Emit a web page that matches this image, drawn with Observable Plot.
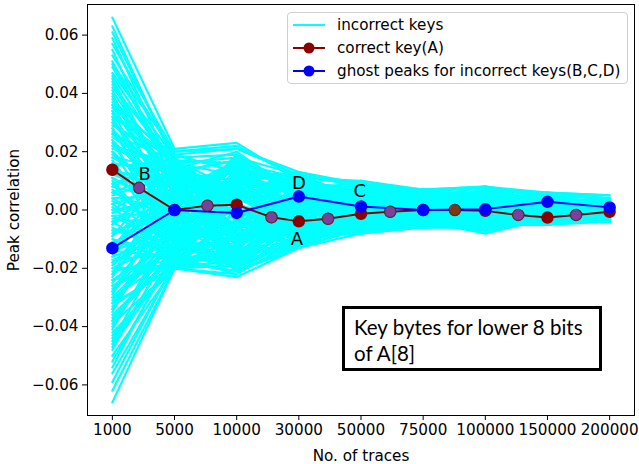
<!DOCTYPE html>
<html>
<head>
<meta charset="utf-8">
<script src="https://cdn.jsdelivr.net/npm/d3@7"></script>
<script src="https://cdn.jsdelivr.net/npm/@observablehq/plot@0.6"></script>
<style>
  body { margin: 0; background: #fff; font-family: 'DejaVu Sans', sans-serif; }
  #wrap { position: relative; width: 639px; height: 464px; }
  #legend { position: absolute; left: 287px; top: 12px; width: 341px; height: 72px;
    border: 1px solid #d0d0d0; border-radius: 4px; background: rgba(255,255,255,0.85);
    font-family: 'DejaVu Sans', sans-serif; font-size: 15.2px; color: #000; box-sizing: border-box; }
  .row { position: absolute; left: 4px; height: 20px; display: flex; align-items: center; }
  .row span { margin-left: 11px; white-space: nowrap; }
  #note { position: absolute; left: 342px; top: 306px; width: 260px; height: 65px; box-sizing: border-box;
    border: 3px solid #000; font-family: 'Lato', 'Open Sans', sans-serif; font-size: 20.5px; line-height: 26px;
    padding: 5px 0 0 9px; background: #fff; }
</style>
</head>
<body>
<div id="wrap">
  <div id="chart"></div>
  <div id="legend"></div>
  <div id="note">Key bytes for lower 8 bits<br>of A[8]</div>
</div>
<script>
// x categories (tick labels)
const traceLabels = ["1000","5000","10000","30000","50000","75000","100000","150000","200000"];
const yTicks = [-0.06,-0.04,-0.02,0,0.02,0.04,0.06];

// incorrect keys: peak correlation at each trace count (one row per key)
const incorrectKeys = [
  [0.066, 0.021, 0.023, 0.010, 0.006, 0.003, 0.004, 0.002, 0.001],
  [0.063, 0.016, 0.018, 0.012, 0.009, 0.005, 0.002, 0.003, 0.002],
  [0.059, 0.012, 0.009, 0.006, 0.010, 0.007, 0.008, 0.004, 0.003],
  [0.055, 0.008, 0.014, 0.011, 0.004, -0.002, 0.001, 0.005, 0.004],
  [0.047, 0.018, 0.019, 0.007, 0.002, 0.004, 0.006, 0.001, -0.001],
  [0.045, 0.005, 0.011, 0.013, 0.008, 0.006, 0.003, -0.002, 0.002],
  [0.043, 0.015, 0.006, 0.003, -0.003, 0.002, 0.007, 0.006, 0.005],
  [0.040, -0.004, 0.016, 0.009, 0.005, -0.004, -0.003, 0.003, 0.000],
  [0.037, 0.011, 0.002, -0.005, 0.007, 0.005, 0.004, -0.004, -0.002],
  [0.035, 0.019, 0.013, 0.004, 0.001, 0.007, -0.005, 0.002, 0.003],
  [0.032, -0.008, 0.008, 0.011, 0.009, 0.003, 0.002, 0.005, -0.003],
  [0.030, 0.013, -0.006, 0.002, -0.006, -0.003, 0.005, -0.001, 0.004],
  [0.028, 0.003, 0.017, -0.008, 0.003, 0.006, -0.002, 0.004, 0.001],
  [0.026, 0.017, 0.004, 0.008, -0.004, -0.005, 0.006, -0.003, -0.004],
  [0.024, -0.012, 0.010, -0.002, 0.006, 0.001, -0.006, 0.001, 0.002],
  [0.022, 0.009, -0.011, 0.005, 0.010, -0.001, 0.003, -0.005, 0.003],
  [0.020, 0.001, 0.012, -0.010, -0.002, 0.004, 0.008, 0.002, -0.001],
  [0.018, 0.014, -0.003, 0.012, 0.004, -0.006, -0.004, 0.006, 0.004],
  [0.016, -0.015, 0.007, 0.001, -0.007, 0.002, 0.001, -0.002, -0.003],
  [0.014, 0.006, -0.014, -0.006, 0.008, 0.005, -0.007, 0.003, 0.000],
  [0.011, -0.002, 0.015, 0.007, -0.005, -0.002, 0.004, -0.004, 0.002],
  [0.009, 0.016, -0.008, -0.011, 0.002, 0.006, -0.001, 0.004, -0.002],
  [0.007, -0.010, 0.005, 0.010, -0.008, -0.004, 0.007, -0.001, 0.001],
  [0.005, 0.012, -0.016, 0.003, 0.005, 0.003, -0.005, 0.005, -0.004],
  [0.003, -0.006, 0.018, -0.004, -0.001, -0.005, 0.002, -0.003, 0.003],
  [0.000, 0.004, -0.005, 0.008, 0.007, 0.000, -0.003, 0.002, -0.001],
  [-0.002, -0.013, 0.009, -0.007, -0.004, 0.004, 0.005, -0.005, 0.002],
  [-0.004, 0.010, -0.012, 0.006, 0.003, -0.003, -0.006, 0.001, -0.003],
  [-0.006, -0.016, 0.003, -0.012, 0.006, 0.002, 0.003, 0.003, 0.001],
  [-0.009, 0.007, -0.018, 0.004, -0.006, -0.005, 0.000, -0.004, -0.002],
  [-0.011, -0.004, 0.011, -0.009, 0.001, 0.005, -0.004, 0.004, 0.003],
  [-0.013, 0.013, -0.007, 0.009, -0.007, -0.002, 0.006, -0.002, -0.004],
  [-0.016, -0.009, -0.015, -0.003, 0.004, -0.006, -0.002, 0.002, 0.002],
  [-0.018, 0.002, 0.006, -0.012, -0.003, 0.003, -0.007, -0.003, 0.000],
  [-0.021, -0.017, -0.009, 0.002, 0.005, -0.001, 0.003, 0.001, -0.003],
  [-0.023, 0.008, -0.017, -0.006, -0.006, -0.004, -0.005, -0.005, 0.001],
  [-0.026, -0.014, 0.001, -0.010, 0.002, 0.001, 0.002, 0.003, -0.002],
  [-0.028, -0.005, -0.013, 0.000, -0.005, -0.006, -0.006, -0.002, 0.002],
  [-0.031, -0.011, -0.004, -0.013, -0.001, 0.003, -0.003, -0.004, -0.004],
  [-0.034, 0.003, -0.019, -0.005, -0.007, -0.003, 0.001, 0.002, 0.000],
  [-0.037, -0.016, -0.010, -0.008, 0.000, -0.005, -0.007, -0.001, -0.003],
  [-0.040, -0.007, -0.002, -0.011, -0.006, 0.001, -0.004, -0.005, 0.001],
  [-0.043, -0.018, -0.016, -0.004, -0.003, -0.004, 0.000, 0.000, -0.002],
  [-0.046, -0.012, -0.006, -0.013, -0.008, -0.002, -0.006, -0.003, -0.004],
  [-0.052, -0.015, -0.020, -0.009, -0.004, -0.005, -0.003, -0.004, -0.001],
  [-0.056, -0.019, -0.018, -0.012, -0.007, -0.003, -0.008, -0.002, -0.003],
  [-0.062, -0.020, -0.022, -0.010, -0.005, -0.006, -0.005, -0.005, -0.002],
  [-0.066, -0.020, -0.023, -0.013, -0.006, -0.004, -0.007, -0.003, -0.004],
  [0.051, 0.010, 0.004, 0.009, 0.003, 0.006, 0.005, 0.003, 0.002],
  [0.049, 0.014, 0.020, 0.005, 0.007, -0.001, 0.004, 0.004, 0.003],
  [0.044, 0.002, 0.010, 0.012, 0.000, 0.003, 0.006, 0.000, 0.004],
  [0.042, 0.017, 0.007, -0.003, 0.009, 0.005, -0.002, 0.003, 0.001],
  [0.039, 0.007, 0.015, 0.006, 0.004, 0.007, 0.003, 0.005, -0.002],
  [0.036, 0.012, -0.002, 0.010, 0.006, -0.003, 0.007, -0.001, 0.003],
  [0.034, -0.006, 0.012, 0.001, 0.008, 0.004, 0.000, 0.004, 0.002],
  [0.033, 0.016, 0.005, 0.009, -0.002, 0.002, 0.005, 0.002, -0.001],
  [0.031, 0.004, 0.014, -0.004, 0.005, 0.006, -0.004, 0.005, 0.004],
  [0.029, 0.018, -0.009, 0.007, 0.007, 0.000, 0.006, 0.001, 0.002],
  [0.027, -0.003, 0.019, 0.003, -0.005, 0.005, 0.002, -0.002, 0.003],
  [0.025, 0.011, 0.001, -0.007, 0.004, -0.002, 0.007, 0.003, -0.003],
  [0.023, -0.009, 0.013, 0.010, 0.002, 0.003, -0.003, 0.004, 0.001],
  [0.021, 0.015, -0.013, 0.004, -0.003, 0.006, 0.004, -0.003, 0.002],
  [0.019, 0.005, 0.009, -0.009, 0.009, -0.004, 0.001, 0.006, -0.002],
  [0.017, -0.011, 0.004, 0.011, -0.004, 0.001, 0.006, 0.000, 0.003],
  [0.015, 0.017, 0.016, 0.000, 0.003, 0.004, -0.005, 0.002, 0.000],
  [0.013, -0.001, -0.010, 0.006, -0.006, -0.003, 0.003, -0.004, 0.004],
  [0.012, 0.008, 0.006, -0.011, 0.006, 0.007, -0.001, 0.001, -0.001],
  [0.010, -0.014, 0.014, 0.008, 0.000, -0.002, 0.005, 0.005, 0.001],
  [0.008, 0.003, -0.015, -0.002, 0.008, 0.001, -0.006, -0.002, 0.003],
  [0.006, 0.014, 0.002, 0.013, -0.003, 0.005, 0.002, 0.003, -0.003],
  [0.004, -0.008, -0.004, -0.008, 0.004, -0.005, 0.008, -0.004, 0.002],
  [0.002, 0.009, 0.013, 0.005, -0.007, 0.003, -0.002, 0.004, 0.000],
  [0.001, -0.017, -0.009, 0.001, 0.007, -0.001, 0.004, 0.000, -0.002],
  [-0.001, 0.006, 0.017, -0.005, 0.002, 0.006, -0.005, 0.003, 0.004],
  [-0.003, -0.005, -0.017, 0.011, -0.005, -0.004, 0.001, -0.003, -0.001],
  [-0.005, 0.015, 0.007, -0.009, 0.005, 0.002, 0.006, 0.002, 0.001],
  [-0.007, -0.012, -0.001, 0.002, -0.008, -0.006, -0.003, 0.005, -0.003],
  [-0.008, 0.001, 0.010, -0.013, 0.001, 0.004, 0.003, -0.005, 0.002],
  [-0.010, -0.018, -0.011, 0.007, 0.006, -0.001, -0.007, 0.001, -0.004],
  [-0.012, 0.005, 0.004, -0.006, -0.002, 0.005, 0.002, -0.002, 0.003],
  [-0.014, -0.007, -0.019, 0.003, 0.003, -0.004, -0.004, 0.003, 0.000],
  [-0.015, 0.011, 0.008, -0.011, -0.006, 0.002, 0.004, -0.004, -0.002],
  [-0.017, -0.015, -0.006, -0.001, 0.000, -0.005, -0.002, 0.002, 0.003],
  [-0.019, 0.000, -0.014, 0.006, -0.007, 0.003, -0.006, -0.001, -0.004],
  [-0.020, -0.010, 0.002, -0.008, 0.004, -0.002, 0.004, 0.004, 0.001],
  [-0.022, 0.012, -0.020, -0.004, -0.004, -0.006, -0.001, -0.003, -0.001],
  [-0.024, -0.019, -0.003, -0.012, 0.002, 0.004, -0.005, 0.000, 0.002],
  [-0.025, -0.002, -0.016, 0.001, -0.008, -0.003, 0.002, -0.005, -0.003],
  [-0.027, -0.013, 0.005, -0.007, -0.002, 0.000, -0.007, 0.002, 0.000],
  [-0.029, 0.004, -0.008, -0.011, 0.003, -0.005, 0.000, -0.002, -0.004],
  [-0.030, -0.016, -0.018, 0.004, -0.006, 0.002, -0.004, 0.003, 0.002],
  [-0.032, -0.008, 0.000, -0.009, -0.001, -0.006, 0.003, -0.004, -0.001],
  [-0.033, -0.019, -0.012, -0.002, -0.005, -0.001, -0.006, -0.001, 0.001],
  [-0.035, 0.001, -0.021, -0.012, 0.001, -0.004, -0.002, -0.004, -0.003],
  [-0.038, -0.014, -0.007, -0.006, -0.008, 0.002, -0.005, 0.001, -0.002],
  [-0.039, -0.020, -0.017, -0.010, -0.003, -0.005, 0.001, -0.003, 0.000],
  [-0.041, -0.004, -0.011, -0.003, -0.006, -0.003, -0.007, -0.002, -0.004],
  [-0.044, -0.017, -0.021, -0.013, -0.002, -0.006, -0.003, -0.005, -0.002],
  [-0.048, -0.010, -0.014, -0.007, -0.007, -0.002, -0.006, 0.000, -0.003],
  [-0.050, -0.020, -0.019, -0.011, -0.004, -0.005, -0.004, -0.004, -0.001],
  [0.053, 0.019, 0.021, 0.012, 0.008, 0.007, 0.007, 0.005, 0.004],
  [0.057, 0.020, 0.022, 0.011, 0.010, 0.006, 0.008, 0.006, 0.005],
  [0.046, 0.013, 0.017, 0.008, 0.005, 0.001, 0.006, 0.003, 0.003],
  [0.041, 0.009, 0.003, 0.012, 0.003, 0.006, -0.001, 0.005, 0.001],
  [0.038, 0.016, 0.012, -0.001, 0.008, 0.002, 0.005, -0.002, 0.004],
  [0.036, 0.001, 0.018, 0.006, -0.004, 0.005, 0.003, 0.004, -0.002],
  [0.034, 0.010, 0.007, 0.010, 0.006, -0.004, 0.006, 0.001, 0.002],
  [0.032, 0.018, -0.004, 0.004, 0.002, 0.006, -0.003, 0.004, 0.001],
  [0.030, 0.006, 0.015, -0.006, 0.009, 0.001, 0.004, -0.003, 0.003],
  [0.028, -0.007, 0.006, 0.009, -0.001, 0.003, 0.007, 0.002, -0.001],
  [0.026, 0.012, -0.012, 0.002, 0.006, 0.007, 0.001, 0.005, 0.002],
  [0.024, 0.002, 0.014, 0.011, -0.006, -0.002, 0.005, -0.002, 0.004],
  [0.022, 0.016, 0.001, -0.004, 0.004, 0.004, -0.004, 0.003, -0.003],
  [0.020, -0.010, 0.011, 0.006, 0.007, -0.005, 0.002, 0.000, 0.002],
  [0.018, 0.007, -0.007, 0.012, -0.003, 0.006, 0.006, 0.004, 0.000],
  [0.016, 0.013, 0.017, -0.007, 0.005, 0.000, -0.002, -0.003, 0.003],
  [0.015, -0.004, 0.003, 0.003, 0.001, 0.005, 0.004, 0.005, -0.002],
  [0.013, 0.011, -0.017, 0.009, 0.008, -0.003, -0.005, 0.000, 0.001],
  [0.011, 0.000, 0.008, -0.003, -0.002, 0.002, 0.007, -0.004, 0.004],
  [0.009, -0.015, 0.012, 0.006, 0.005, 0.006, 0.000, 0.003, -0.001],
  [0.008, 0.018, -0.002, -0.010, -0.005, -0.001, 0.003, 0.001, 0.002],
  [0.006, -0.003, -0.013, 0.001, 0.003, 0.004, -0.006, 0.006, 0.000],
  [0.004, 0.005, 0.016, 0.011, -0.002, -0.004, 0.004, -0.002, -0.003],
  [0.002, -0.011, -0.006, -0.005, 0.009, 0.001, -0.001, 0.002, 0.003],
  [0.000, 0.013, 0.010, 0.003, -0.006, 0.005, 0.006, -0.005, -0.001],
  [-0.002, -0.001, -0.019, -0.010, 0.000, -0.003, -0.004, 0.004, 0.002],
  [-0.004, -0.018, 0.005, 0.008, 0.004, 0.002, 0.002, -0.001, -0.004],
  [-0.005, 0.008, -0.010, -0.002, -0.007, -0.005, 0.005, 0.001, 0.001],
  [-0.007, -0.008, 0.014, -0.012, 0.005, 0.003, -0.007, -0.003, 0.003],
  [-0.009, 0.016, -0.003, 0.006, 0.001, -0.006, 0.001, 0.004, -0.002],
  [-0.011, -0.012, -0.016, -0.007, -0.004, 0.006, -0.003, -0.002, 0.000],
  [-0.012, 0.003, 0.007, 0.010, -0.008, -0.002, 0.006, 0.002, -0.003],
  [-0.014, -0.016, -0.008, -0.004, 0.007, 0.000, -0.005, -0.004, 0.002],
  [-0.016, 0.009, 0.013, -0.009, -0.003, -0.004, 0.003, 0.003, -0.001],
  [-0.018, -0.006, -0.021, 0.005, 0.002, 0.005, -0.002, -0.005, 0.003],
  [-0.020, -0.019, 0.000, -0.011, -0.006, -0.003, -0.006, 0.000, -0.004],
  [-0.022, 0.001, -0.011, 0.001, 0.004, 0.001, 0.002, -0.003, 0.001],
  [-0.024, -0.011, 0.009, -0.006, -0.007, -0.006, -0.004, 0.002, -0.002],
  [-0.026, -0.017, -0.015, -0.013, 0.001, 0.003, 0.000, -0.004, 0.000],
  [-0.028, 0.006, -0.005, -0.003, -0.003, -0.005, -0.007, 0.001, -0.003],
  [-0.030, -0.009, -0.019, -0.010, -0.007, -0.001, 0.002, -0.002, 0.002],
  [-0.032, -0.020, -0.009, 0.002, 0.003, -0.006, -0.005, -0.005, -0.004],
  [-0.034, -0.003, -0.014, -0.012, -0.005, 0.000, -0.002, 0.000, -0.001],
  [-0.036, -0.015, -0.001, -0.007, 0.000, -0.004, -0.008, -0.003, 0.001],
  [-0.038, -0.010, -0.020, -0.002, -0.008, -0.002, -0.004, -0.001, -0.003],
  [-0.042, -0.020, -0.013, -0.011, -0.004, -0.006, -0.001, -0.004, -0.002],
  [-0.045, -0.006, -0.008, -0.008, -0.007, -0.003, -0.007, -0.002, -0.004],
  [-0.047, -0.016, -0.022, -0.005, -0.002, -0.005, -0.005, -0.005, 0.000],
  [-0.054, -0.013, -0.017, -0.013, -0.006, -0.002, -0.003, -0.003, -0.003],
  [-0.059, -0.018, -0.021, -0.009, -0.008, -0.006, -0.006, -0.004, -0.002],
  [0.061, 0.017, 0.016, 0.009, 0.007, 0.006, 0.005, 0.004, 0.003],
  [0.050, 0.020, 0.021, 0.013, 0.009, 0.007, 0.008, 0.005, 0.004]
];

// correct key (A): positions in trace-count index units (incl. intermediate points)
const correctPos = [0, 0.43, 1, 1.53, 2, 2.56, 3, 3.47, 4, 4.47, 5, 5.51, 6, 6.53, 7, 7.46, 8];
const correctVal = [0.0138, 0.0076, 0.0, 0.0015, 0.0018, -0.0025, -0.0039, -0.003, -0.0013, -0.0006, 0.0, 0.0, -0.0003, -0.0017, -0.0026, -0.0017, -0.0006];
// intermediate markers (purple) on the correct-key line
const midPos = [0.43, 1.53, 2.56, 3.47, 4.47, 6.53, 7.46];
const midVal = [0.0076, 0.0015, -0.0025, -0.003, -0.0006, -0.0017, -0.0017];
const brownPos = [5.51];
const brownVal = [0.0];
// ghost peaks (B, C, D)
const ghostVal = [-0.0131, 0.0, -0.001, 0.0046, 0.0012, 0.0, 0.0003, 0.0028, 0.0009];
// annotations
const annText = ["B", "D", "A", "C"];
const annPos = [0.52, 3.0, 2.97, 3.98];
const annVal = [0.0121, 0.0093, -0.0101, 0.0063];

const cyanData = incorrectKeys.flatMap((row, k) => row.map((v, i) => ({k, i, v})));
const redData = correctPos.map((p, j) => ({p, v: correctVal[j]}));
const midData = midPos.map((p, j) => ({p, v: midVal[j]}));
const brownData = brownPos.map((p, j) => ({p, v: brownVal[j]}));
const ghostData = ghostVal.map((v, i) => ({i, v}));
const annData = annText.map((t, j) => ({t, p: annPos[j], v: annVal[j]}));

const fmt = d => (d < 0 ? "\u2212" : "") + Math.abs(d).toFixed(2);

const chart = Plot.plot({
  width: 639, height: 464,
  marginLeft: 87, marginRight: 5, marginTop: 4, marginBottom: 49,
  style: {fontFamily: "'DejaVu Sans', sans-serif", fontSize: "15.2px", color: "#000", background: "#fff"},
  x: {domain: [-0.4, 8.4]},
  y: {domain: [-0.0705, 0.0705]},
  marks: [
    Plot.line(cyanData, {x: "i", y: "v", z: "k", stroke: "#00ffff", strokeWidth: 2.2}),
    Plot.line(redData, {x: "p", y: "v", stroke: "#8b0000", strokeWidth: 2}),
    Plot.dot(redData, {x: "p", y: "v", r: 5.5, fill: "#8b0000", stroke: "#8b0000"}),
    Plot.line(ghostData, {x: "i", y: "v", stroke: "#0000ff", strokeWidth: 2}),
    Plot.dot(ghostData, {x: "i", y: "v", r: 5.5, fill: "#0000ff", stroke: "#0000ff"}),
    Plot.dot(midData, {x: "p", y: "v", r: 5.5, fill: "#7b3f9e", stroke: "#3a3a3a", strokeWidth: 0.8}),
    Plot.dot(brownData, {x: "p", y: "v", r: 5.5, fill: "#7b3a12", stroke: "#3a3a3a", strokeWidth: 0.8}),
    Plot.text(annData, {x: "p", y: "v", text: "t", fontSize: 18, fill: "#000"}),
    Plot.frame({stroke: "#000", strokeWidth: 1}),
    Plot.axisX({ticks: d3.range(traceLabels.length), tickFormat: i => traceLabels[i], tickSize: 5, tickPadding: 4,
      label: "No. of traces", labelAnchor: "center", labelArrow: false, labelOffset: 45, fontSize: 15.2}),
    Plot.axisY({ticks: yTicks, tickFormat: fmt, tickSize: 5, tickPadding: 4,
      label: "Peak correlation", labelAnchor: "center", labelArrow: false, labelOffset: 79, fontSize: 15.2})
  ]
});
document.getElementById("chart").appendChild(chart);

// legend
const legendItems = [
  {label: "incorrect keys", color: "#00ffff", marker: false},
  {label: "correct key(A)", color: "#8b0000", marker: true},
  {label: "ghost peaks for incorrect keys(B,C,D)", color: "#0000ff", marker: true}
];
const leg = document.getElementById("legend");
legendItems.forEach((it, j) => {
  const row = document.createElement("div");
  row.className = "row";
  row.style.top = (2 + j * 23) + "px";
  row.innerHTML = `<svg width="34" height="20"><line x1="1" x2="33" y1="10" y2="10" stroke="${it.color}" stroke-width="2"/>` +
    (it.marker ? `<circle cx="17" cy="10" r="5.5" fill="${it.color}"/>` : "") + `</svg><span>${it.label}</span>`;
  leg.appendChild(row);
});
</script>
</body>
</html>
